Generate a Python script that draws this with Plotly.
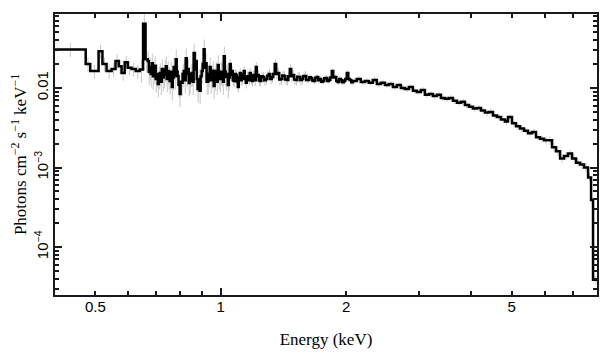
import numpy as np
import plotly.graph_objects as go

# ---------------- data ----------------
# bin edges in keV (len = len(flux) + 1)
bin_edges = [
    0.400, 0.474, 0.486, 0.509, 0.520, 0.532, 0.547, 0.559, 0.569, 0.578,
    0.588, 0.598, 0.611, 0.625, 0.639, 0.651, 0.660,
    0.668, 0.672, 0.675, 0.679, 0.683, 0.687, 0.690, 0.694, 0.698, 0.702,
    0.706, 0.710, 0.714, 0.718, 0.722, 0.726, 0.730, 0.734, 0.738, 0.742,
    0.746, 0.750, 0.754, 0.758, 0.763, 0.767, 0.771, 0.775, 0.780, 0.784,
    0.788, 0.792, 0.797, 0.801, 0.806, 0.810, 0.815, 0.820, 0.824, 0.829,
    0.833, 0.838, 0.842, 0.847, 0.852, 0.857, 0.861, 0.866, 0.871, 0.876,
    0.880, 0.885, 0.890, 0.895, 0.900, 0.905, 0.910, 0.915, 0.920, 0.925,
    0.931, 0.936, 0.941, 0.946, 0.952, 0.957, 0.962, 0.967, 0.973, 0.978,
    0.984, 0.989, 0.995, 1.001, 1.006, 1.012, 1.017, 1.023, 1.028, 1.034,
    1.040, 1.046, 1.051, 1.057, 1.063, 1.069, 1.075, 1.081, 1.087, 1.093,
    1.099, 1.105, 1.111, 1.117, 1.124, 1.130, 1.136, 1.142, 1.149, 1.155,
    1.162, 1.168, 1.174, 1.181, 1.188, 1.195, 1.201, 1.208, 1.214, 1.221,
    1.228, 1.235,
    1.241, 1.251, 1.262, 1.272, 1.283, 1.294, 1.304, 1.315, 1.326, 1.337,
    1.348, 1.359, 1.371, 1.382, 1.394, 1.406, 1.417, 1.429, 1.441, 1.453,
    1.465, 1.477, 1.489, 1.501, 1.514, 1.527, 1.540, 1.553, 1.565, 1.578,
    1.592, 1.605, 1.618, 1.632, 1.645, 1.659, 1.673, 1.687, 1.701, 1.715,
    1.729, 1.743, 1.758, 1.773, 1.788, 1.803, 1.818, 1.833, 1.848, 1.863,
    1.879, 1.895, 1.910, 1.926, 1.942, 1.958, 1.975, 1.991, 2.008, 2.025,
    2.041, 2.058,
    2.076, 2.122, 2.170, 2.219, 2.268, 2.319, 2.371, 2.424, 2.479, 2.534,
    2.591, 2.649, 2.708, 2.769, 2.831, 2.894, 2.959, 3.025, 3.093, 3.162,
    3.233, 3.305, 3.379, 3.455, 3.532, 3.611, 3.692, 3.775, 3.859, 3.946,
    4.034, 4.124, 4.217, 4.311, 4.408, 4.506, 4.607, 4.710, 4.816, 4.896,
    5.006, 5.118, 5.233, 5.350, 5.470, 5.592, 5.717, 5.845, 5.976, 6.110,
    6.247, 6.387, 6.530, 6.676, 6.825, 6.978, 7.134, 7.294, 7.457, 7.624,
    7.751, 7.837, 8.100,
]

# photons cm^-2 s^-1 keV^-1 per bin
flux = [
    0.0305, 0.0200, 0.0163, 0.0290, 0.0200, 0.0163, 0.0173, 0.0218, 0.0188, 0.0154,
    0.0211, 0.0180, 0.0173, 0.0163, 0.0170, 0.0640, 0.0230,
    0.0218, 0.0160, 0.0183, 0.0150, 0.0205, 0.0140, 0.0163, 0.0190, 0.0130, 0.0150,
    0.0112, 0.0140, 0.0154, 0.0120, 0.0173, 0.0135, 0.0145, 0.0170, 0.0188, 0.0130,
    0.0163, 0.0140, 0.0122, 0.0160, 0.0103, 0.0135, 0.0183, 0.0140, 0.0230, 0.0160,
    0.0141, 0.0110, 0.0084, 0.0120, 0.0116, 0.0150, 0.0163, 0.0125, 0.0237, 0.0150,
    0.0173, 0.0115, 0.0122, 0.0150, 0.0154, 0.0120, 0.0274, 0.0170, 0.0218, 0.0130,
    0.0097, 0.0130, 0.0092, 0.0140, 0.0163, 0.0200, 0.0307, 0.0180, 0.0205, 0.0120,
    0.0122, 0.0150, 0.0183, 0.0125, 0.0145, 0.0165, 0.0106, 0.0135, 0.0163, 0.0120,
    0.0194, 0.0140, 0.0130, 0.0160, 0.0154, 0.0120, 0.0251, 0.0160, 0.0137, 0.0150,
    0.0109, 0.0135, 0.0200, 0.0145, 0.0163, 0.0125, 0.0122, 0.0150, 0.0145, 0.0120,
    0.0103, 0.0135, 0.0154, 0.0125, 0.0130, 0.0150, 0.0163, 0.0130, 0.0116, 0.0140,
    0.0137, 0.0125, 0.0154, 0.0130, 0.0122, 0.0145, 0.0141, 0.0125, 0.0183, 0.0140,
    0.0145, 0.0125,
    0.0122, 0.0140, 0.0137, 0.0125, 0.0130, 0.0142, 0.0150, 0.0130, 0.0137, 0.0150,
    0.0200, 0.0150, 0.0154, 0.0128, 0.0130, 0.0143, 0.0141, 0.0128, 0.0126, 0.0140,
    0.0173, 0.0140, 0.0145, 0.0128, 0.0126, 0.0138, 0.0137, 0.0126, 0.0130, 0.0140,
    0.0141, 0.0126, 0.0126, 0.0136, 0.0133, 0.0124, 0.0122, 0.0134, 0.0137, 0.0125,
    0.0130, 0.0120, 0.0122, 0.0132, 0.0133, 0.0122, 0.0126, 0.0135, 0.0163, 0.0135,
    0.0137, 0.0122, 0.0119, 0.0130, 0.0126, 0.0118, 0.0122, 0.0130, 0.0154, 0.0130,
    0.0126, 0.0118,
    0.0122, 0.0130, 0.0119, 0.0122, 0.0116, 0.0126, 0.0112, 0.0116, 0.0109, 0.0112,
    0.0103, 0.0109, 0.0100, 0.0097, 0.0103, 0.0092, 0.0089, 0.0094, 0.0082, 0.0084,
    0.0079, 0.0082, 0.0075, 0.0073, 0.0075, 0.0069, 0.0065, 0.0067, 0.0061, 0.0058,
    0.0055, 0.0056, 0.0052, 0.0049, 0.0050, 0.0045, 0.0043, 0.0040, 0.0038, 0.0043,
    0.0036, 0.0033, 0.0031, 0.0029, 0.0027, 0.0028, 0.0024, 0.0023, 0.0022, 0.0022,
    0.0018, 0.0016, 0.0013, 0.0014, 0.0015, 0.0013, 0.00115, 0.00109, 0.0010, 0.00075,
    0.00039, 0.000039,
]

# approximate fractional 1-sigma errors by energy band: (lo keV, hi keV, fraction)
err_bands = [
    (0.40, 0.64, 0.20),
    (0.64, 1.05, 0.32),
    (1.05, 1.60, 0.15),
    (1.60, 3.00, 0.08),
    (3.00, 6.00, 0.09),
    (6.00, 8.10, 0.12),
]

x_tickvals = [0.5, 1, 2, 5]
x_ticktext = ["0.5", "1", "2", "5"]
x_minor = [0.4, 0.6, 0.7, 0.8, 0.9, 3, 4, 6, 7, 8]
y_tickvals = [1e-4, 1e-3, 1e-2]
y_ticktext = ["10<sup>\u22124</sup>", "10<sup>\u22123</sup>", "0.01"]
y_minor = [3e-5, 4e-5, 5e-5, 6e-5, 7e-5, 8e-5, 9e-5,
           2e-4, 3e-4, 4e-4, 5e-4, 6e-4, 7e-4, 8e-4, 9e-4,
           2e-3, 3e-3, 4e-3, 5e-3, 6e-3, 7e-3, 8e-3, 9e-3,
           2e-2, 3e-2, 4e-2, 5e-2, 6e-2, 7e-2, 8e-2]

# ---------------- build ----------------
edges = np.array(bin_edges)
f = np.array(flux)
assert len(edges) == len(f) + 1
centers = np.sqrt(edges[:-1] * edges[1:])
frac = np.zeros_like(f)
for lo, hi, fr in err_bands:
    frac[(centers >= lo) & (centers < hi)] = fr
err = f * frac

step_x = edges
step_y = np.append(f, f[-1])

AX = "#1a1a1a"
tick_font = dict(family="Liberation Sans, Arial, sans-serif", size=15, color="black")
title_font = dict(family="Liberation Serif, Times New Roman, serif", size=17, color="black")

fig = go.Figure()
fig.add_trace(go.Scatter(
    x=centers, y=f, mode="markers",
    marker=dict(size=1, color="rgba(0,0,0,0)"),
    error_y=dict(type="data", array=err, symmetric=True,
                 color="#c6c6c6", thickness=1, width=0),
    hoverinfo="skip", showlegend=False,
))
fig.add_trace(go.Scatter(
    x=step_x, y=step_y, mode="lines",
    line=dict(shape="hv", color="black", width=2.5),
    showlegend=False,
))
# dummy trace to host the overlay axis (long tick at 1 keV)
fig.add_trace(go.Scatter(x=[1], y=[1e-2], xaxis="x2", mode="markers",
                         marker=dict(size=1, color="rgba(0,0,0,0)"),
                         hoverinfo="skip", showlegend=False))

xr = [np.log10(0.4), np.log10(8.01)]
yr = [np.log10(2.5e-5), np.log10(0.085)]

# the page body has an 8px margin: size/margins compensate for it
fig.update_layout(
    width=601, height=349,
    margin=dict(l=47, r=12, t=4, b=62),
    paper_bgcolor="white", plot_bgcolor="white",
    showlegend=False,
    xaxis=dict(
        type="log", range=xr,
        tickmode="array", tickvals=x_tickvals, ticktext=x_ticktext,
        ticks="inside", ticklen=4, tickwidth=1.5, tickcolor=AX,
        ticklabelstandoff=-3,
        showline=True, linecolor=AX, linewidth=2, mirror="ticks",
        showgrid=False, zeroline=False, tickfont=tick_font,
        minor=dict(tickmode="array", tickvals=x_minor, ticks="inside",
                   ticklen=4, tickwidth=1.5, tickcolor=AX, showgrid=False),
        title=dict(text="Energy (keV)", font=title_font, standoff=19),
    ),
    xaxis2=dict(
        type="log", range=xr, overlaying="x", side="bottom", anchor="y",
        tickmode="array", tickvals=[1], ticks="inside", ticklen=7,
        tickwidth=1.5, tickcolor=AX, showticklabels=False, showline=False,
        mirror="ticks", showgrid=False, zeroline=False,
    ),
    yaxis=dict(
        type="log", range=yr,
        tickmode="array", tickvals=y_tickvals, ticktext=y_ticktext,
        tickangle=-90, ticklabelstandoff=-1,
        ticks="inside", ticklen=7, tickwidth=1.5, tickcolor=AX,
        showline=True, linecolor=AX, linewidth=2, mirror="ticks",
        showgrid=False, zeroline=False, tickfont=tick_font,
        minor=dict(tickmode="array", tickvals=y_minor, ticks="inside",
                   ticklen=4, tickwidth=1.5, tickcolor=AX, showgrid=False),
        title=dict(text="Photons cm<sup>\u22122</sup> s<sup>\u22121</sup> keV<sup>\u22121</sup>",
                   font=title_font, standoff=2),
    ),
)

fig.write_html("out.html")
